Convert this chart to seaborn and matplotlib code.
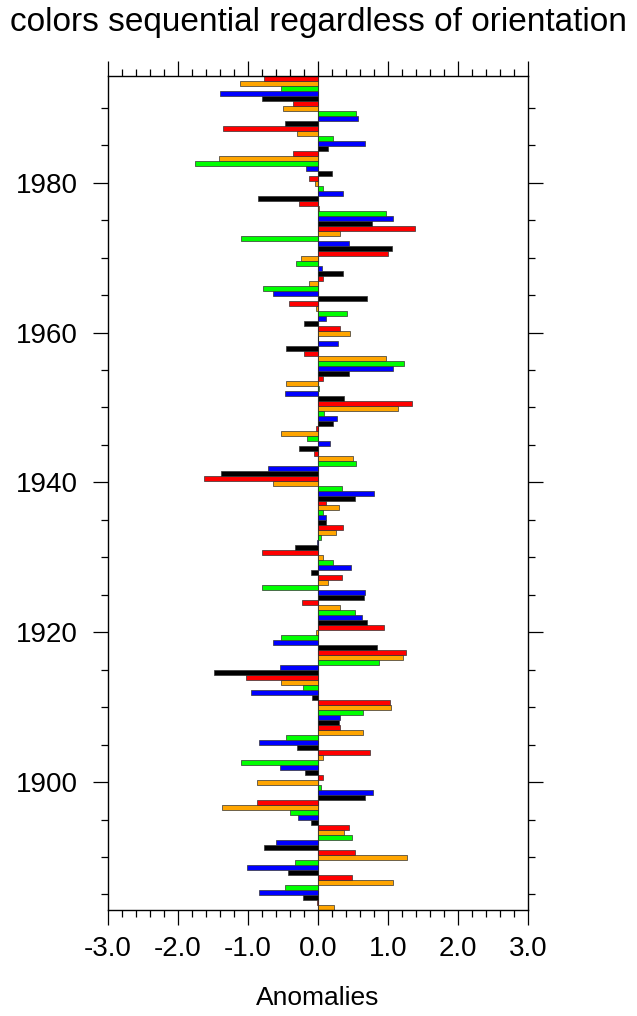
import numpy as np
import pandas as pd
import seaborn as sns
import matplotlib.pyplot as plt
from matplotlib.ticker import MultipleLocator

# anomaly values, oldest first, one bar every 8 months
anomalies = [
    0.23, -0.01, -0.21, -0.84, -0.47, 1.08, 0.49, -0.42, -1.01, -0.32,
    1.27, 0.53, -0.77, -0.60, 0.49, 0.37, 0.45, -0.10, -0.29, -0.40,
    -1.37, -0.87, 0.68, 0.79, 0.04, -0.87, 0.07, -0.19, -0.54, -1.10,
    0.07, 0.74, -0.30, -0.84, -0.46, 0.65, 0.31, 0.30, 0.32, 0.65,
    1.05, 1.03, -0.08, -0.95, -0.21, -0.52, -1.03, -1.49, -0.54, 0.88,
    1.22, 1.26, 0.85, -0.64, -0.53, -0.03, 0.94, 0.70, 0.63, 0.53,
    0.31, -0.22, 0.66, 0.67, -0.80, 0.14, 0.34, -0.10, 0.48, 0.21,
    0.07, -0.80, -0.32, -0.01, 0.05, 0.26, 0.36, 0.11, 0.11, 0.08,
    0.30, 0.11, 0.53, 0.80, 0.34, -0.64, -1.63, -1.39, -0.71, 0.55,
    0.50, -0.06, -0.27, 0.18, -0.15, -0.53, -0.03, 0.21, 0.28, 0.09,
    1.14, 1.34, 0.38, -0.47, 0.02, -0.46, 0.08, 0.45, 1.08, 1.23,
    0.97, -0.20, -0.46, 0.29, 0.00, 0.46, 0.31, -0.20, 0.12, 0.42,
    -0.03, -0.41, 0.70, -0.64, -0.78, -0.12, 0.07, 0.36, 0.06, -0.31,
    -0.24, 1.00, 1.06, 0.45, -1.10, 0.31, 1.39, 0.78, 1.07, 0.98,
    0.01, -0.27, -0.86, 0.36, 0.07, -0.04, -0.13, 0.20, -0.17, -1.76,
    -1.42, -0.36, 0.14, 0.68, 0.22, -0.30, -1.36, -0.47, 0.58, 0.55,
    -0.50, -0.36, -0.80, -1.40, -0.53, -1.11, -0.77,
]
bar_colors = ["orange", "red", "black", "blue", "lime"]
start_year = 1883.25
step = 8 / 12

years = start_year + step * np.arange(len(anomalies))
df = pd.DataFrame({
    "year": years,
    "anom": anomalies,
    "color": [bar_colors[i % len(bar_colors)] for i in range(len(anomalies))],
})

sns.set_style("ticks")
plt.rcParams["font.family"] = ["Liberation Sans", "DejaVu Sans"]
plt.rcParams["text.color"] = "black"
plt.rcParams["xtick.color"] = "black"
plt.rcParams["ytick.color"] = "black"
plt.rcParams["axes.labelcolor"] = "black"

fig = plt.figure(figsize=(6.37, 10.16), dpi=100)
ax = fig.add_axes([0.1695, 0.1043, 0.659, 0.8209])

ax.axvline(0, color="black", lw=0.8, zorder=0)
sns.barplot(data=df, x="anom", y="year", hue="color",
            palette={c: c for c in bar_colors}, orient="h",
            native_scale=True, dodge=False, width=1.0, errorbar=None,
            saturation=1, edgecolor="#333333", linewidth=0.5,
            legend=False, ax=ax)

ax.set_xlim(-3, 3)
ax.set_ylim(years[0] - step / 2, years[-1] + step / 2)

ax.set_xticks(np.arange(-3, 3.5, 1))
ax.set_xticklabels([f"{v:.1f}" for v in np.arange(-3, 3.5, 1)])
ax.xaxis.set_minor_locator(MultipleLocator(0.2))
ax.set_yticks([1900, 1920, 1940, 1960, 1980])
ax.set_yticklabels(["1900", "1920", "1940", "1960", "1980"])
ax.yaxis.set_minor_locator(MultipleLocator(5))

ax.tick_params(axis="both", which="both", direction="out", top=True,
               right=True, bottom=True, left=True, labeltop=False,
               labelright=False, color="black", width=0.9)
ax.tick_params(axis="both", which="major", length=10.8, labelsize=20)
ax.tick_params(axis="both", which="minor", length=5)
ax.tick_params(axis="x", which="major", pad=8)
ax.tick_params(axis="y", which="major", pad=11)
for s in ax.spines.values():
    s.set_linewidth(1.0)
    s.set_color("black")

ax.set_xlabel("")
ax.set_ylabel("")
fig.text(0.4992, 0.0177, "Anomalies", ha="center", va="center", fontsize=19)
fig.text(0.4992, 0.978, "colors sequential regardless of orientation",
         ha="center", va="center", fontsize=24)

fig.savefig("out.png", dpi=100)
